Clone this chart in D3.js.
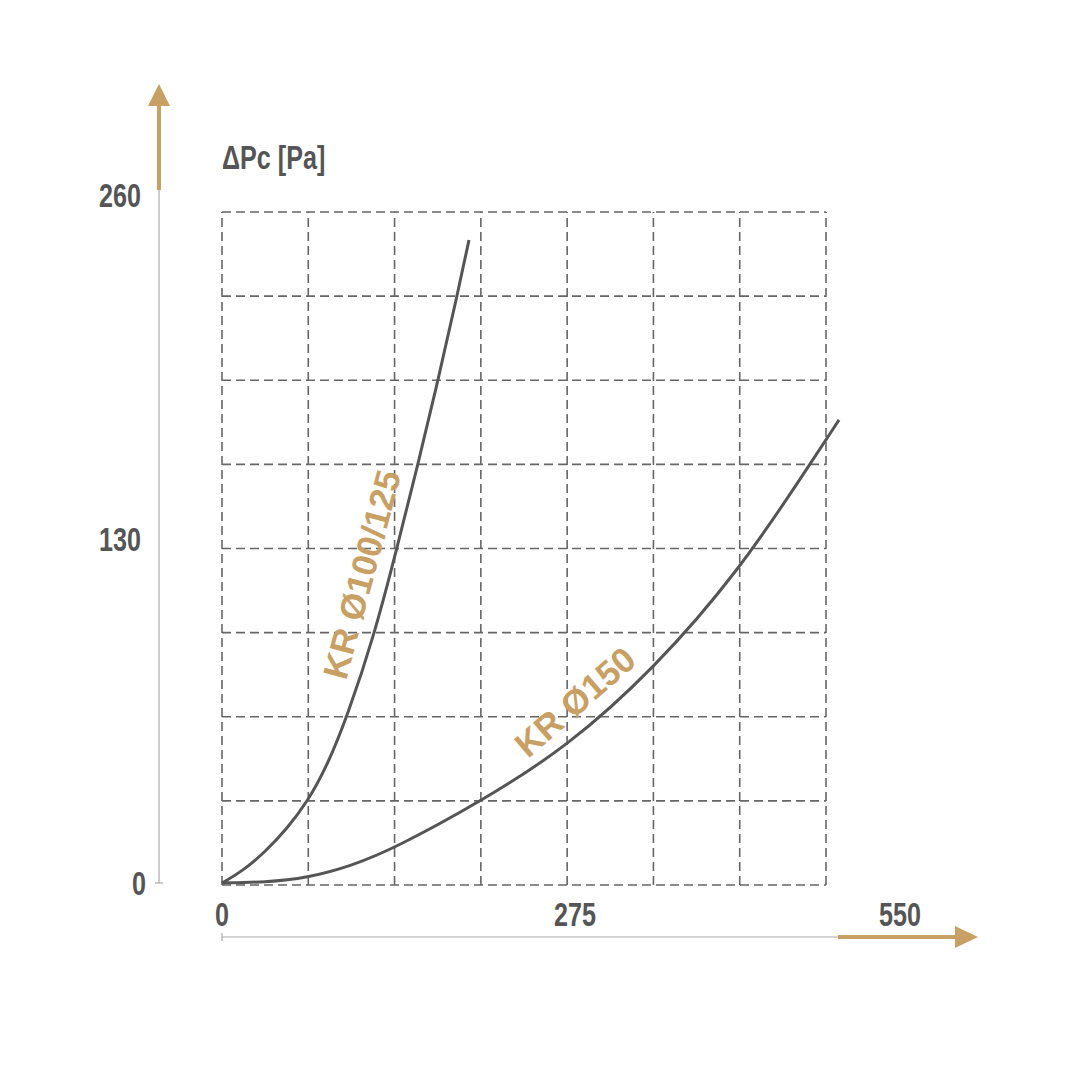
<!DOCTYPE html>
<html><head><meta charset="utf-8">
<script src="https://cdn.jsdelivr.net/npm/d3@7/dist/d3.min.js"></script>
<style>
html,body{margin:0;padding:0;background:#fff;}
svg{display:block;}
.cond{font-family:"Liberation Sans",Arial,sans-serif;font-weight:bold;}
.lab{font-family:"Liberation Sans",Arial,sans-serif;font-weight:bold;}
</style></head>
<body>
<svg id="chart" width="1080" height="1080"></svg>
<script>
// ---- data ----
const yTicks = [0, 130, 260];
const xTicks = [0, 275, 550];
const yTitle = "ΔPc [Pa]";
const seriesNames = ["KR Ø100/125", "KR Ø150"];
const flow100 = [0, 16.4, 33.5, 50.6, 67, 81.8, 97.4, 119.2, 136.3, 152.7, 168.3, 183.1, 192.4];
const dp100   = [0, 4.65, 11.7, 20.5, 31, 44.2, 62.7, 94.5, 126.6, 158.3, 190, 221.8, 243];
const flow150 = [0, 33.5, 66.2, 100.5, 134.8, 202.5, 268.8, 335.8, 403.5, 458.1, 480.7];
const dp150   = [0, 0.3, 1.9, 6.4, 13.2, 31, 51.4, 80.5, 118.3, 158.3, 175];
const gridCols = 7, gridRows = 8;

// ---- layout ----
const svg = d3.select("#chart");
const gray = "#555", tan = "#C9A064", axisGray = "#aaa";

const x = d3.scaleLinear().domain([0, 550]).range([222, 928]);
const y = d3.scaleLinear().domain([0, 260]).range([883, 195]);
const gx = d3.scaleLinear().domain([0, gridCols]).range([222, 826]);
const gy = d3.scaleLinear().domain([0, gridRows]).range([885, 212]);

// grid
const grid = svg.append("g").attr("stroke", "#666").attr("stroke-width", 1.6)
  .attr("stroke-dasharray", "9,5").attr("fill", "none");
grid.selectAll("line.v").data(d3.range(gridCols + 1)).join("line")
  .attr("x1", d => gx(d)).attr("x2", d => gx(d)).attr("y1", gy(0)).attr("y2", gy(gridRows));
grid.selectAll("line.h").data(d3.range(gridRows + 1)).join("line")
  .attr("x1", gx(0)).attr("x2", gx(gridCols)).attr("y1", d => gy(d)).attr("y2", d => gy(d));

// y axis line
const yAxisX = 159;
svg.append("line").attr("x1", yAxisX).attr("x2", yAxisX).attr("y1", y(260) - 5).attr("y2", y(0))
  .attr("stroke", axisGray).attr("stroke-width", 1.2);
svg.append("line").attr("x1", yAxisX - 4).attr("x2", yAxisX + 4).attr("y1", y(0)).attr("y2", y(0))
  .attr("stroke", axisGray).attr("stroke-width", 1.2);
svg.append("line").attr("x1", yAxisX).attr("x2", yAxisX).attr("y1", y(260) - 5).attr("y2", 102)
  .attr("stroke", tan).attr("stroke-width", 4);
svg.append("path").attr("d", `M${yAxisX - 11},106 L${yAxisX + 11},106 L${yAxisX},84 Z`).attr("fill", tan);

// x axis line
const xAxisY = 937;
svg.append("line").attr("x1", x(0)).attr("x2", 840).attr("y1", xAxisY).attr("y2", xAxisY)
  .attr("stroke", axisGray).attr("stroke-width", 1.2);
svg.append("line").attr("x1", x(0)).attr("x2", x(0)).attr("y1", xAxisY - 4).attr("y2", xAxisY + 4)
  .attr("stroke", axisGray).attr("stroke-width", 1.2);
svg.append("line").attr("x1", 838).attr("x2", 958).attr("y1", xAxisY).attr("y2", xAxisY)
  .attr("stroke", tan).attr("stroke-width", 4);
svg.append("path").attr("d", `M955,${xAxisY - 11} L955,${xAxisY + 11} L978,${xAxisY} Z`).attr("fill", tan);

// condensed text helper (horizontal squeeze)
const SX = 0.74;
function condText(px, py, anchor, txt) {
  return svg.append("text").attr("class", "cond")
    .attr("transform", `translate(${px},${py}) scale(${SX},1)`)
    .attr("text-anchor", anchor).attr("font-size", 34).attr("fill", gray).text(txt);
}
yTicks.forEach(d => condText(d === 0 ? 139 : 120, y(d) + 12, "middle", d));
xTicks.forEach(d => condText(x(d) + (d === 550 ? -28 : 0), 926, "middle", d));
condText(222, 169, "start", yTitle);

// curves
const line = d3.line().x(d => x(d[0])).y(d => y(d[1])).curve(d3.curveBasis);
const s1 = flow100.map((f, i) => [f, dp100[i]]);
const s2 = flow150.map((f, i) => [f, dp150[i]]);
[s1, s2].forEach(s => svg.append("path").attr("d", line(s)).attr("fill", "none")
  .attr("stroke", gray).attr("stroke-width", 3));

// series labels
svg.append("text").attr("class", "lab").attr("transform", `translate(${346},${681}) rotate(-75)`)
  .attr("font-size", 35).attr("fill", tan).text(seriesNames[0]);
svg.append("text").attr("class", "lab").attr("transform", `translate(${528},${759}) rotate(-41)`)
  .attr("font-size", 35).attr("fill", tan).text(seriesNames[1]);
</script>
</body></html>
